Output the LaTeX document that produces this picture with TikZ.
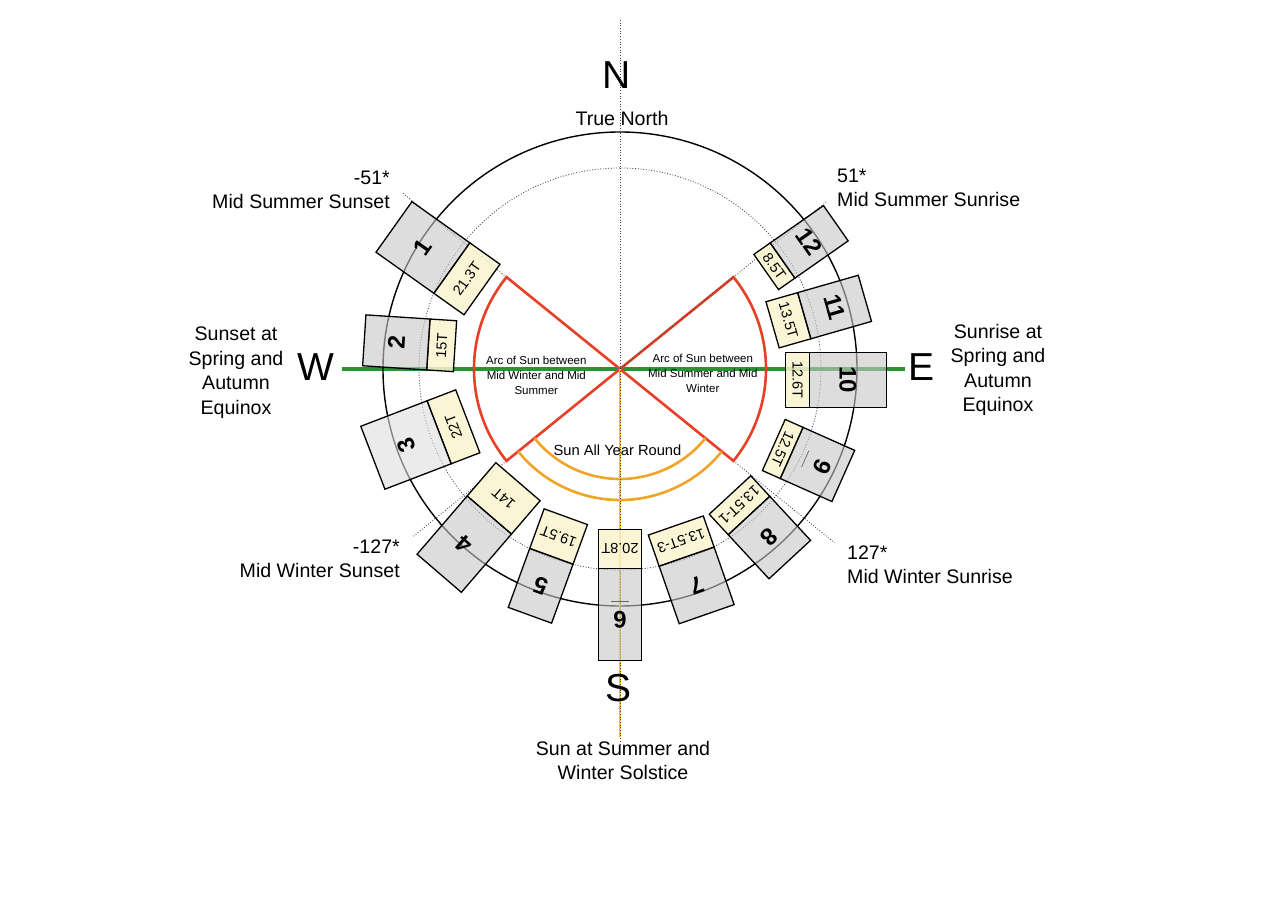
\documentclass[tikz,border=0pt]{standalone}
\usepackage{fontspec}
\setmainfont{Liberation Sans}
\usetikzlibrary{calc}
\definecolor{sred}{RGB}{232,64,38}
\definecolor{sorange}{RGB}{240,165,40}
\definecolor{sgreen}{RGB}{38,150,52}
\definecolor{syellow}{RGB}{236,200,30}
\definecolor{scream}{RGB}{250,244,206}
\definecolor{sgray}{gray}{0.78}
\definecolor{sgraylt}{gray}{0.87}
\newcommand\ulnum[1]{\shortstack{#1\\[7pt]{\color{black!60}\rule{18pt}{0.7pt}}}}
\newcommand\sunbox[9]{%
  \node[creambox, minimum width=#5pt, minimum height=#6pt, rotate={#4-90}] (t#1) at ($(#2,#3)+(#4:{#6/2})$) {#9};
  \node[graybox, minimum width=#5pt, minimum height=#7pt, rotate={#4-90}] (g#1) at ($(#2,#3)+(#4:{#6+#7/2})$) {#8};
}
\begin{document}
\begin{tikzpicture}[x=1pt,y=1pt,
  dots/.style={black!75, line width=0.8pt, dash pattern=on 0.9pt off 1.8pt},
  creambox/.style={draw=black, line width=1.3pt, fill=scream, fill opacity=0.85, text opacity=1, inner sep=0pt, font=\fontsize{14.5}{15}\selectfont},
  graybox/.style={draw=black, line width=1.3pt, fill=sgray, fill opacity=0.6, text opacity=1, inner sep=0pt, font=\bfseries\fontsize{24}{24}\selectfont},
  lbl/.style={font=\fontsize{19.6}{24.5}\selectfont, inner sep=0pt},
  big/.style={font=\fontsize{39}{39}\selectfont, inner sep=0pt},
  arctext/.style={font=\fontsize{11.5}{15}\selectfont, align=center, inner sep=0pt},
  redline/.style={sred, line width=2.6pt, line join=miter},
  orangeline/.style={sorange, line width=2.6pt}]

\useasboundingbox (-620,-536) rectangle (660,369);
\fill[white] (-620,-536) rectangle (660,369);
\coordinate (C) at (0,0);

% equinox line
\draw[sgreen, line width=3.2pt] (-278,0) -- (285,0);
% circles
\draw[black, line width=1.4pt] (C) circle[radius=237];
\draw[dots] (C) circle[radius=201];
% radial dotted lines
\draw[dots] (141:146) -- (141:280);
\draw[dots] (-39:146) -- (-39:276);
\draw[dots] (-141:146) -- (-141:266);

% sun arcs
\draw[redline] (C) -- (39:146) arc[start angle=39, end angle=-39, radius=146] -- cycle;
\draw[redline] (C) -- (141:146) arc[start angle=141, end angle=219, radius=146] -- cycle;
\draw[orangeline] (-141:110) arc[start angle=-141, end angle=-39, radius=110];
\draw[orangeline] (-141:131) arc[start angle=-141, end angle=-39, radius=131];
\draw[dots] (C) -- (39:266);

% solstice line
\draw[syellow, line width=2.8pt] (C) -- (0,-368);
\draw[dots] (0,349) -- (0,-376);

% boxes
\sunbox{1}{-138}{79.5}{144.6}{62}{37}{71}{1}{21.3T}
\sunbox{2}{-165}{22.8}{176.3}{51}{26.7}{64.2}{2}{15T}
{\tikzset{graybox/.append style={fill=sgraylt}}\sunbox{3}{-152.2}{-52.3}{-159}{67.4}{30.7}{71}{3}{22T}}
\sunbox{4}{-102}{-112.7}{-130.7}{58.4}{44}{76.8}{4}{14T}
\sunbox{5}{-54.2}{-147.7}{-110}{46.1}{42.2}{62.7}{5}{19.5T}
\sunbox{6}{0}{-160.3}{-90}{43.4}{39}{92.4}{\ulnum{6}}{20.8T}
\sunbox{7}{55.8}{-156.5}{-70.8}{58.2}{33}{60.9}{7}{13.5T-3}
\sunbox{8}{110}{-126}{-47.2}{56.6}{28}{60}{8}{13.5T-1}
\sunbox{9}{153.8}{-76}{-24}{56}{19.6}{56.5}{\ulnum{9}}{12.5T}
\sunbox{10}{165.7}{-11}{0}{54.6}{23.6}{77.4}{10}{12.6T}
\sunbox{11}{152.6}{44.2}{16}{48}{33}{63}{11}{13.5T}
\sunbox{12}{146.2}{97}{35}{43}{20}{65}{12}{8.5T}

% labels
\node[big] (N) at (-3,294) {N};
\node[lbl] (TN) at (2,251) {True North};
\node[lbl, align=right, anchor=east] (MSS) at (-230,179) {-51*\\Mid Summer Sunset};
\node[lbl, align=left, anchor=west] (MSR) at (217,181) {51*\\Mid Summer Sunrise};
\node[lbl, align=center] (SSE) at (-384,-3.5) {Sunset at\\Spring and\\Autumn\\Equinox};
\node[big] (W) at (-304,2) {W};
\node[big] (E) at (302,2) {E};
\node[lbl, align=center] (SRE) at (378,-1) {Sunrise at\\Spring and\\Autumn\\Equinox};
\node[lbl, align=right, anchor=east] (MWS) at (-220,-190) {-127*\\Mid Winter Sunset};
\node[lbl, align=left, anchor=west] (MWR) at (227,-196) {127*\\Mid Winter Sunrise};
\node[big] (S) at (-1,-319) {S};
\node[lbl, align=center] (SOL) at (3,-391.5) {Sun at Summer and\\Winter Solstice};
\node[font=\fontsize{14.7}{15}\selectfont, inner sep=0pt] (SAY) at (-2.5,-81) {Sun All Year Round};
\node[arctext] (ARCL) at (-83.7,-6.7) {Arc of Sun between\\Mid Winter and Mid\\Summer};
\node[arctext] (ARCR) at (82.8,-4.6) {Arc of Sun between\\Mid Summer and Mid\\Winter};
\end{tikzpicture}
\end{document}
